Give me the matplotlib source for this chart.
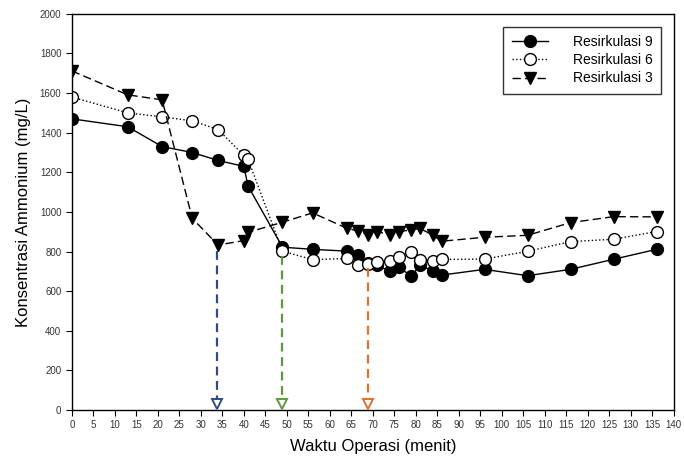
import matplotlib
matplotlib.use('Agg')
import matplotlib.pyplot as plt

plt.rcParams['font.family'] = ['Liberation Sans', 'DejaVu Sans']

# waktu (menit)
t = [0, 13, 21, 28, 34, 40, 41, 49, 56, 64, 66.5, 69, 71, 74, 76, 79, 81, 84,
     86, 96, 106, 116, 126, 136]

res9 = [1470, 1430, 1330, 1300, 1260, 1230, 1130, 822, 811, 802, 781, 740, 730,
        700, 722, 675, 732, 700, 681, 710, 678, 710, 761, 811]
res6 = [1580, 1500, 1480, 1460, 1416, 1286, 1265, 802, 759, 765, 732, 737, 749,
        750, 774, 800, 758, 750, 760, 762, 801, 850, 862, 901]
res3 = [1712, 1591, 1566, 968, 833, 855, 897, 948, 995, 917, 904, 884, 901,
        884, 901, 909, 917, 882, 852, 872, 882, 946, 976, 975]

# arrows: x position, start value, colour
arrow_x = [33.7, 49, 69]
arrow_top = [805, 775, 715]
arrow_col = ['#2E4C8C', '#5E9A3C', '#E0702A']

fig = plt.figure(figsize=(6.84, 4.62), dpi=100)
ax = fig.add_axes([0.105, 0.1126, 0.880, 0.8574])

ax.plot(t, res9, '-', color='black', lw=1, marker='o', ms=8.5,
        mfc='black', mec='black', label='Resirkulasi 9')
ax.plot(t, res6, ':', color='black', lw=1, marker='o', ms=8.5,
        mfc='white', mec='black', label='Resirkulasi 6')
ax.plot(t, res3, '--', color='black', lw=1, marker='v', ms=8.5,
        mfc='black', mec='black', label='Resirkulasi 3', dashes=(6, 3))

for x, top, c in zip(arrow_x, arrow_top, arrow_col):
    ax.plot([x, x], [top, 40], '--', color=c, lw=1.6, dashes=(4, 2.5))
    ax.plot([x], [28], marker='v', ms=6.5, mfc='white', mec=c, mew=1.4)

ax.set_xlim(0, 140)
ax.set_ylim(0, 2000)
ax.set_xticks(range(0, 141, 5))
ax.set_yticks(range(0, 2001, 200))
ax.tick_params(direction='out', length=4, width=0.8, labelsize=7,
               labelcolor='#333333')
ax.set_xlabel('Waktu Operasi (menit)', fontsize=12, labelpad=6)
ax.set_ylabel('Konsentrasi Ammonium (mg/L)', fontsize=12, labelpad=6)

for s in ax.spines.values():
    s.set_linewidth(1.0)

leg = ax.legend(loc='upper right', bbox_to_anchor=(0.99, 0.985), fontsize=10,
                frameon=True, fancybox=False, edgecolor='black',
                handlelength=2.6, borderpad=0.6, labelspacing=0.3,
                handletextpad=1.8)
leg.get_frame().set_linewidth(1.0)

fig.savefig('out.png', dpi=100)
